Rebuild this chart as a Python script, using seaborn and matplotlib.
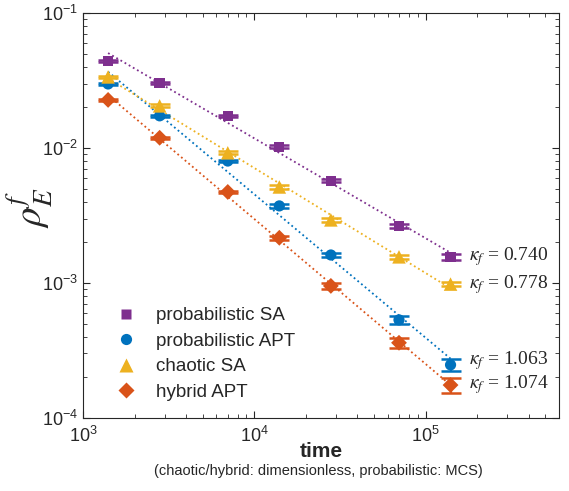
import numpy as np
import pandas as pd
import matplotlib.pyplot as plt
import seaborn as sns

# data
time = [1400, 2800, 7000, 14000, 28000, 70000, 140000]
series = ['probabilistic SA', 'probabilistic APT', 'chaotic SA', 'hybrid APT']
rho_prob_sa = [0.044, 0.0303, 0.0173, 0.0102, 0.0057, 0.00264, 0.00156]
rho_prob_apt = [0.0298, 0.0173, 0.0080, 0.00372, 0.00161, 0.000532, 0.000247]
rho_chaotic_sa = [0.0336, 0.0205, 0.0092, 0.00514, 0.00293, 0.00156, 0.00098]
rho_hybrid_apt = [0.0227, 0.0119, 0.00472, 0.00216, 0.00095, 0.00036, 0.000175]
# relative errors
err_prob_sa = [0.02, 0.02, 0.02, 0.025, 0.025, 0.035, 0.05]
err_prob_apt = [0.015, 0.02, 0.02, 0.035, 0.04, 0.07, 0.10]
err_chaotic_sa = [0.02, 0.025, 0.025, 0.03, 0.03, 0.035, 0.04]
err_hybrid_apt = [0.015, 0.02, 0.025, 0.03, 0.05, 0.09, 0.12]
kappa = [0.740, 1.063, 0.778, 1.074]

colors = ['#7E2F8E', '#0072BD', '#EDB120', '#D95319']
markers = ['s', 'o', '^', 'D']
marker_sizes = [55, 65, 95, 65]
label_shift = [0, 3, 0, 0]  # points, keeps the two lower labels apart

rhos = [rho_prob_sa, rho_prob_apt, rho_chaotic_sa, rho_hybrid_apt]
errs = [err_prob_sa, err_prob_apt, err_chaotic_sa, err_hybrid_apt]

df = pd.concat([pd.DataFrame({'time': time, 'rho': r, 'err': e, 'series': s})
                for s, r, e in zip(series, rhos, errs)], ignore_index=True)

sns.set_style('ticks')
plt.rcParams['font.family'] = ['Liberation Sans', 'DejaVu Sans']
plt.rcParams['mathtext.fontset'] = 'custom'
plt.rcParams['mathtext.rm'] = 'Liberation Sans'
plt.rcParams['mathtext.it'] = 'Liberation Sans:italic'

fig = plt.figure(figsize=(5.69, 4.91), dpi=100)
ax = fig.add_axes([0.146, 0.149, 0.836, 0.8245])

# power-law fits with fixed exponent, intercept from the data
t = np.array(time, dtype=float)
for s, r, k, c in zip(series, rhos, kappa, colors):
    logA = np.mean(np.log10(r) + k * np.log10(t))
    fit = 10 ** (logA - k * np.log10(t))
    sns.lineplot(x=t, y=fit, ax=ax, color=c, linestyle=':', linewidth=1.3,
                 legend=False)

for s, c in zip(series, colors):
    sub = df[df['series'] == s]
    ax.errorbar(sub['time'], sub['rho'], yerr=sub['rho'] * sub['err'],
                fmt='none', ecolor=c, elinewidth=1.6, capsize=7, capthick=1.8)

sns.scatterplot(data=df, x='time', y='rho', hue='series', style='series',
                size='series', hue_order=series, style_order=series,
                size_order=series, sizes=dict(zip(series, marker_sizes)),
                palette=dict(zip(series, colors)),
                markers=dict(zip(series, markers)),
                edgecolor='none', ax=ax, zorder=5)

for s, r, k, dy in zip(series, rhos, kappa, label_shift):
    ax.annotate(r'$\kappa_f$' + f' = {k:.3f}', xy=(time[-1], r[-1]),
                xytext=(13, dy), textcoords='offset points', va='center',
                fontsize=14, family='Liberation Serif', math_fontfamily='stix')

ax.set_xscale('log')
ax.set_yscale('log')
ax.set_xlim(1e3, 6e5)
ax.set_ylim(1e-4, 1e-1)
ax.tick_params(which='both', direction='in', top=True, right=True,
               labelsize=13, color='#262626')
ax.tick_params(which='major', length=5)
ax.tick_params(which='minor', length=3)
ax.tick_params(axis='x', pad=6)
for sp in ax.spines.values():
    sp.set_color('#262626')

ax.set_xlabel('time', fontsize=15, fontweight='bold', labelpad=-3)
ax.set_ylabel(r'$\rho_E^f$', fontsize=28, math_fontfamily='stix')
ax.yaxis.set_label_coords(-0.06, 0.52)
fig.text(0.56, 0.032, '(chaotic/hybrid: dimensionless, probabilistic: MCS)',
         ha='center', fontsize=10.5)

ax.legend(loc='lower left', bbox_to_anchor=(0.015, 0.0), frameon=False,
          fontsize=13.5, handletextpad=0.6, labelspacing=0.45)

fig.savefig('out.png', dpi=100)
